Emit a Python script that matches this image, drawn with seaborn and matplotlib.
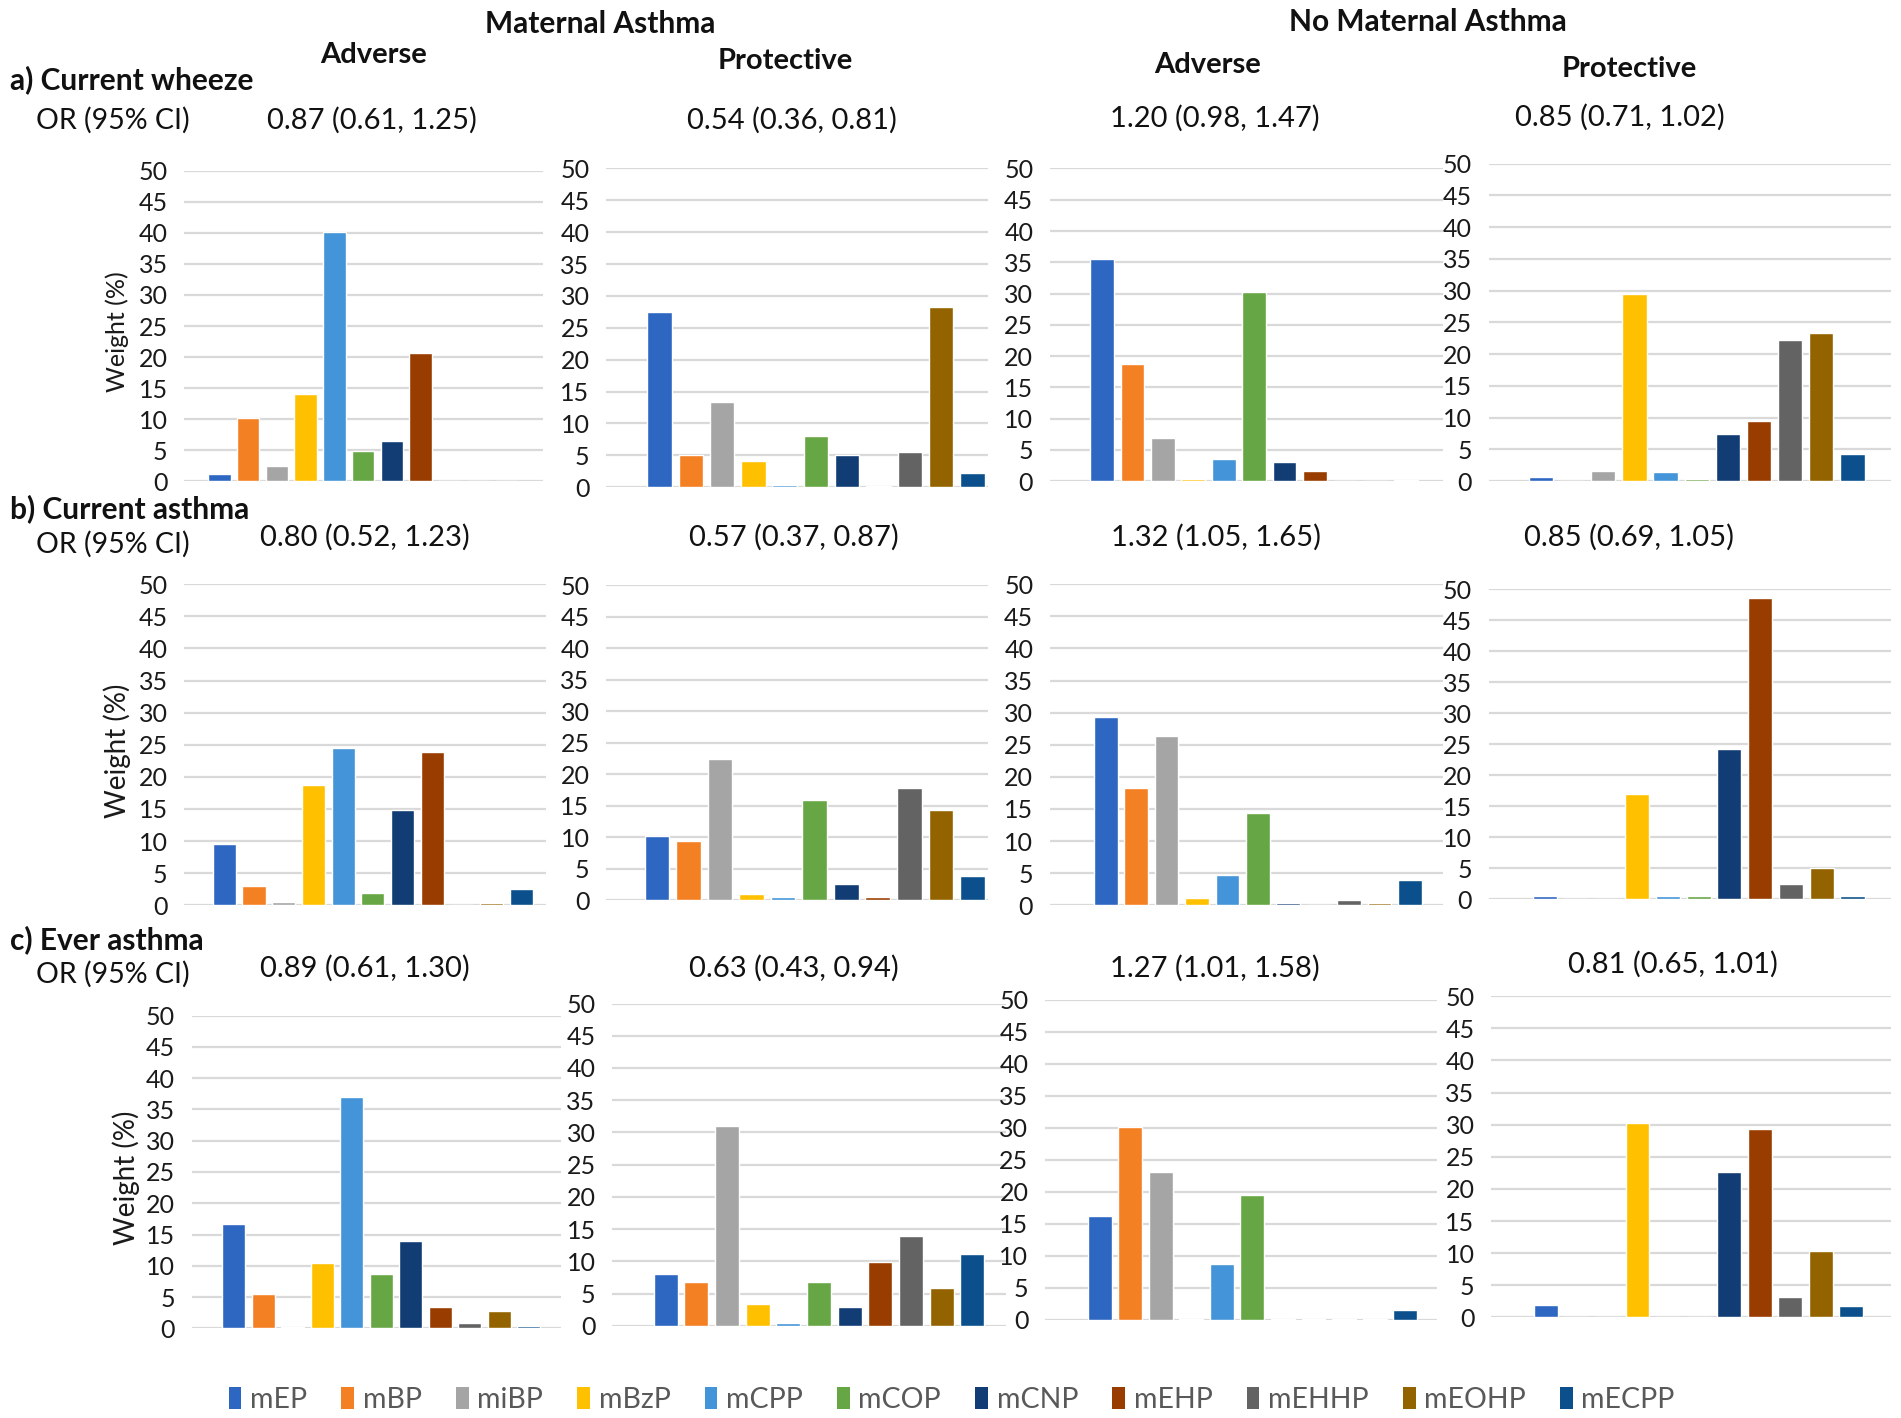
import matplotlib
matplotlib.use("Agg")
import matplotlib.pyplot as plt
import seaborn as sns
import pandas as pd
from matplotlib.patches import Patch

sns.set_theme(style="white")
plt.rcParams['font.family'] = ['Lato', 'DejaVu Sans']

categories = ["mEP", "mBP", "miBP", "mBzP", "mCPP", "mCOP", "mCNP", "mEHP", "mEHHP", "mEOHP", "mECPP"]
colors = ["#2E67C2", "#F48024", "#A5A5A5", "#FFC000", "#4394D8", "#67A644",
          "#123C74", "#993C00", "#636363", "#936300", "#0B508C"]

# a) Current wheeze
wheeze_ma_adverse = [1.2, 10.2, 2.5, 14.0, 40.2, 4.8, 6.5, 20.6, 0, 0, 0]
wheeze_ma_protective = [27.5, 5.0, 13.4, 4.1, 0.3, 8.1, 5.0, 0.2, 5.6, 28.2, 2.3]
wheeze_nma_adverse = [35.6, 18.7, 6.9, 0.4, 3.6, 30.3, 3.0, 1.6, 0, 0, 0.2]
wheeze_nma_protective = [0.6, 0.1, 1.6, 29.5, 1.4, 0.3, 7.4, 9.4, 22.3, 23.3, 4.3]
# b) Current asthma
asthma_ma_adverse = [9.6, 3.0, 0.5, 18.7, 24.5, 1.9, 14.8, 23.8, 0, 0.3, 2.6]
asthma_ma_protective = [10.3, 9.5, 22.4, 1.1, 0.6, 15.9, 2.6, 0.6, 17.9, 14.4, 3.9]
asthma_nma_adverse = [29.3, 18.3, 26.3, 1.1, 4.7, 14.4, 0.3, 0.1, 0.9, 0.3, 4.0]
asthma_nma_protective = [0.6, 0.1, 0.1, 17.0, 0.6, 0.6, 24.2, 48.5, 2.5, 5.1, 0.6]
# c) Ever asthma
ever_ma_adverse = [16.7, 5.5, 0.2, 10.4, 37.0, 8.7, 13.9, 3.4, 0.9, 2.8, 0.3]
ever_ma_protective = [8.0, 6.8, 31.0, 3.4, 0.4, 6.8, 2.9, 9.9, 13.9, 5.8, 11.2]
ever_nma_adverse = [16.2, 30.1, 23.1, 0.1, 8.8, 19.5, 0.1, 0.1, 0.2, 0.1, 1.5]
ever_nma_protective = [1.9, 0, 0.1, 30.3, 0.1, 0.1, 22.6, 29.3, 3.1, 10.4, 1.7]

row_titles = ["a) Current wheeze", "b) Current asthma", "c) Ever asthma"]
or_texts = [
    ["0.87 (0.61, 1.25)", "0.54 (0.36, 0.81)", "1.20 (0.98, 1.47)", "0.85 (0.71, 1.02)"],
    ["0.80 (0.52, 1.23)", "0.57 (0.37, 0.87)", "1.32 (1.05, 1.65)", "0.85 (0.69, 1.05)"],
    ["0.89 (0.61, 1.30)", "0.63 (0.43, 0.94)", "1.27 (1.01, 1.58)", "0.81 (0.65, 1.01)"],
]
panel_data = [
    [wheeze_ma_adverse, wheeze_ma_protective, wheeze_nma_adverse, wheeze_nma_protective],
    [asthma_ma_adverse, asthma_ma_protective, asthma_nma_adverse, asthma_nma_protective],
    [ever_ma_adverse, ever_ma_protective, ever_nma_adverse, ever_nma_protective],
]

W, H = 1568.0, 1170.0
# panel boxes in reference (shrunk) pixel coords: x0, x1, y_top(50), y_bottom(0)
boxes = [
    [(152, 448, 141, 397), (500, 815, 139, 402), (866, 1190, 139, 397), (1228, 1560, 135, 397)],
    [(152, 450, 482, 747), (500, 815, 483, 743), (866, 1190, 482, 747), (1228, 1560, 486, 742)],
    [(158, 463, 838, 1096), (505, 830, 828, 1094), (862, 1185, 825, 1089), (1230, 1560, 822, 1087)],
]
# first / last category centre positions (reference px)
centres = [
    [(181, 418), (544, 802), (909, 1160), (1271, 1528)],
    [(185, 430), (542, 802), (912, 1163), (1274, 1528)],
    [(193, 436), (549, 802), (907, 1159), (1275, 1527)],
]
or_pos = [
    [(307, 99), (653, 99), (1002, 98), (1336, 97)],
    [(301, 443), (655, 443), (1003, 443), (1344, 443)],
    [(301, 799), (655, 799), (1002, 799), (1380, 796)],
]
title_y = [66, 420, 775]
orlab_y = [99, 449, 804]
ylab_x = [97, 97, 104]

fig = plt.figure(figsize=(19.01, 14.18), dpi=100)

def fx(x):
    return x / W

def fy(y):
    return 1 - y / H

grid_color = "#D9D9D9"
for r in range(3):
    for c in range(4):
        x0, x1, yt, yb = boxes[r][c]
        c0, c10 = centres[r][c]
        s = (c10 - c0) / 10.0
        ax = fig.add_axes([fx(x0), fy(yb), fx(x1) - fx(x0), (yb - yt) / H])
        df = pd.DataFrame({"cat": categories, "val": panel_data[r][c]})
        sns.barplot(data=df, x="cat", y="val", hue="cat", palette=colors,
                    order=categories, hue_order=categories, legend=False,
                    width=0.78, saturation=1, ax=ax)
        ax.set_ylim(0, 50)
        ax.set_xlim(-(c0 - x0) / s, 10 + (x1 - c10) / s)
        ax.set_yticks(range(0, 51, 5))
        ax.set_yticklabels([str(v) for v in range(0, 51, 5)], fontsize=18, color="#1a1a1a")
        ax.set_xticks([])
        ax.set_xlabel("")
        ax.set_ylabel("")
        ax.tick_params(axis="y", length=0, pad=12)
        ax.yaxis.grid(True, color=grid_color, linewidth=1.6)
        ax.set_axisbelow(True)
        for sp in ax.spines.values():
            sp.set_visible(False)
        ax.patch.set_alpha(0)
        tx, ty = or_pos[r][c]
        fig.text(fx(tx), fy(ty), or_texts[r][c], ha="center", va="center", fontsize=21, color="#111111")
    yt0, yb0 = boxes[r][0][2], boxes[r][0][3]
    fig.text(fx(ylab_x[r]), fy((yt0 + yb0) / 2 + 5), "Weight (%)", rotation=90, ha="center", va="center",
             fontsize=18 if r == 0 else 20, color="#1a1a1a")
    fig.text(fx(8), fy(title_y[r]), row_titles[r], ha="left", va="center", fontsize=21.5,
             fontweight="bold", color="#111111")
    fig.text(fx(30), fy(orlab_y[r]), "OR (95% CI)", ha="left", va="center", fontsize=20.5, color="#111111")

fig.text(fx(495), fy(20), "Maternal Asthma", ha="center", va="center", fontsize=21.5, fontweight="bold", color="#111111")
fig.text(fx(1178), fy(18), "No Maternal Asthma", ha="center", va="center", fontsize=21.5, fontweight="bold", color="#111111")
for (x, y, t) in [(308, 45, "Adverse"), (648, 50, "Protective"), (996, 54, "Adverse"), (1344, 57, "Protective")]:
    fig.text(fx(x), fy(y), t, ha="center", va="center", fontsize=21, fontweight="bold", color="#111111")

handles = [Patch(facecolor=col, edgecolor="none", label=lab) for col, lab in zip(colors, categories)]
fig.legend(handles=handles, loc="center", bbox_to_anchor=(fx(785), fy(1155)), ncol=11,
           frameon=False, fontsize=20.5, handlelength=0.45, handleheight=0.85,
           handletextpad=0.3, columnspacing=1.2, labelcolor="#595959")

fig.savefig("out.png", dpi=100, facecolor="white")
